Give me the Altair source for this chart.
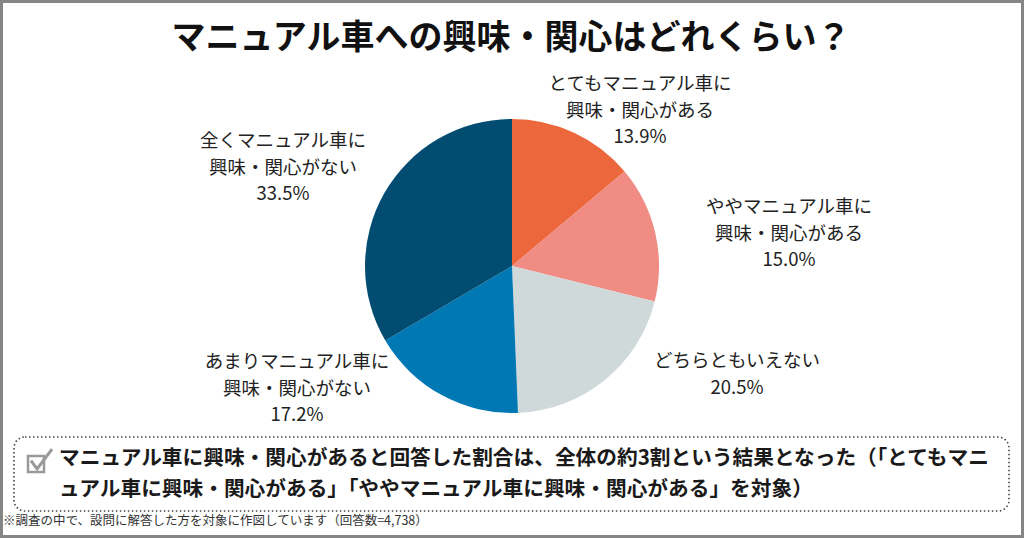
import altair as alt
import pandas as pd

# ---- data ----
categories = [
    "とてもマニュアル車に興味・関心がある",
    "ややマニュアル車に興味・関心がある",
    "どちらともいえない",
    "あまりマニュアル車に興味・関心がない",
    "全くマニュアル車に興味・関心がない",
]
label_lines = [
    "とてもマニュアル車に\n興味・関心がある",
    "ややマニュアル車に\n興味・関心がある",
    "どちらともいえない",
    "あまりマニュアル車に\n興味・関心がない",
    "全くマニュアル車に\n興味・関心がない",
]
values = [13.9, 15.0, 20.5, 17.2, 33.5]
colors = ["#EC683C", "#F08C84", "#D0D9D9", "#0078B4", "#024C72"]

title_text = "マニュアル車への興味・関心はどれくらい？"
note_lines = [
    "マニュアル車に興味・関心があると回答した割合は、全体の約3割という結果となった（「とてもマニ",
    "ュアル車に興味・関心がある」「ややマニュアル車に興味・関心がある」を対象）",
]
footnote = "※調査の中で、設問に解答した方を対象に作図しています（回答数=4,738）"

FONT = "Noto Sans CJK JP"
W, H = 1024, 538

df = pd.DataFrame({
    "cat": categories,
    "value": values,
    "idx": list(range(len(categories))),
    "label": [f"{l}\n{v:.1f}%" for l, v in zip(label_lines, values)],
})
one = pd.DataFrame({"a": [0]})

# outer frame
frame = alt.Chart(one).mark_rect(fill="white", stroke="#858585", strokeWidth=3).encode(
    x=alt.value(1.5), x2=alt.value(W - 1.5), y=alt.value(1.5), y2=alt.value(H - 1.5)
)

title = alt.Chart(one).mark_text(
    text=title_text, font=FONT, fontSize=34, fontWeight="bold", color="#111111",
    align="center", baseline="middle"
).encode(x=alt.value(511), y=alt.value(39))

pie = alt.Chart(df).mark_arc(radius=147).encode(
    theta=alt.Theta("value:Q", stack=True),
    order=alt.Order("idx:O"),
    color=alt.Color("cat:N", scale=alt.Scale(domain=categories, range=colors), legend=None),
    x=alt.value(512), y=alt.value(266),
)

# position of the first line of each label block
label_pos = {
    categories[0]: (640, 84),
    categories[1]: (789, 207),
    categories[2]: (737, 361),
    categories[3]: (297, 362),
    categories[4]: (283, 141),
}
labels = []
for c in categories:
    px, py = label_pos[c]
    labels.append(
        alt.Chart(df).transform_filter(alt.datum.cat == c).mark_text(
            font=FONT, fontSize=18.5, color="#222222", align="center",
            baseline="middle", lineBreak="\n", lineHeight=26.5
        ).encode(text="label:N", x=alt.value(px), y=alt.value(py))
    )

box = alt.Chart(one).mark_rect(
    fill="white", stroke="#444444", strokeWidth=1.6, strokeDash=[1.5, 2.5], cornerRadius=11
).encode(x=alt.value(14), x2=alt.value(1009), y=alt.value(437), y2=alt.value(511))

check_sq = alt.Chart(one).mark_rect(fill="white", stroke="#999999", strokeWidth=2.5).encode(
    x=alt.value(28), x2=alt.value(44), y=alt.value(456), y2=alt.value(472)
)
check_mark = alt.Chart(one).mark_point(
    shape="M -1 0.15 L -0.42 0.95 L 1 -0.95", filled=False, stroke="#999999",
    strokeWidth=3, size=441, opacity=1
).encode(x=alt.value(41.5), y=alt.value(459))

note1 = alt.Chart(one).mark_text(
    text=note_lines[0], font=FONT, fontSize=20.7, fontWeight="bold", color="#1a1a1a",
    align="left", baseline="middle"
).encode(x=alt.value(59), y=alt.value(459))
note2 = alt.Chart(one).mark_text(
    text=note_lines[1], font=FONT, fontSize=20.7, fontWeight="bold", color="#1a1a1a",
    align="left", baseline="middle"
).encode(x=alt.value(59), y=alt.value(490))

foot = alt.Chart(one).mark_text(
    text=footnote, font=FONT, fontSize=12.5, color="#333333", align="left", baseline="middle"
).encode(x=alt.value(3), y=alt.value(521))

chart = alt.layer(
    frame, title, pie, *labels, box, check_sq, check_mark, note1, note2, foot
).properties(
    width=W, height=H, padding=0, autosize=alt.AutoSizeParams(type="none"), background="white"
).configure_view(stroke=None)

chart.save("out.html", embed_options={"renderer": "svg", "actions": False})
